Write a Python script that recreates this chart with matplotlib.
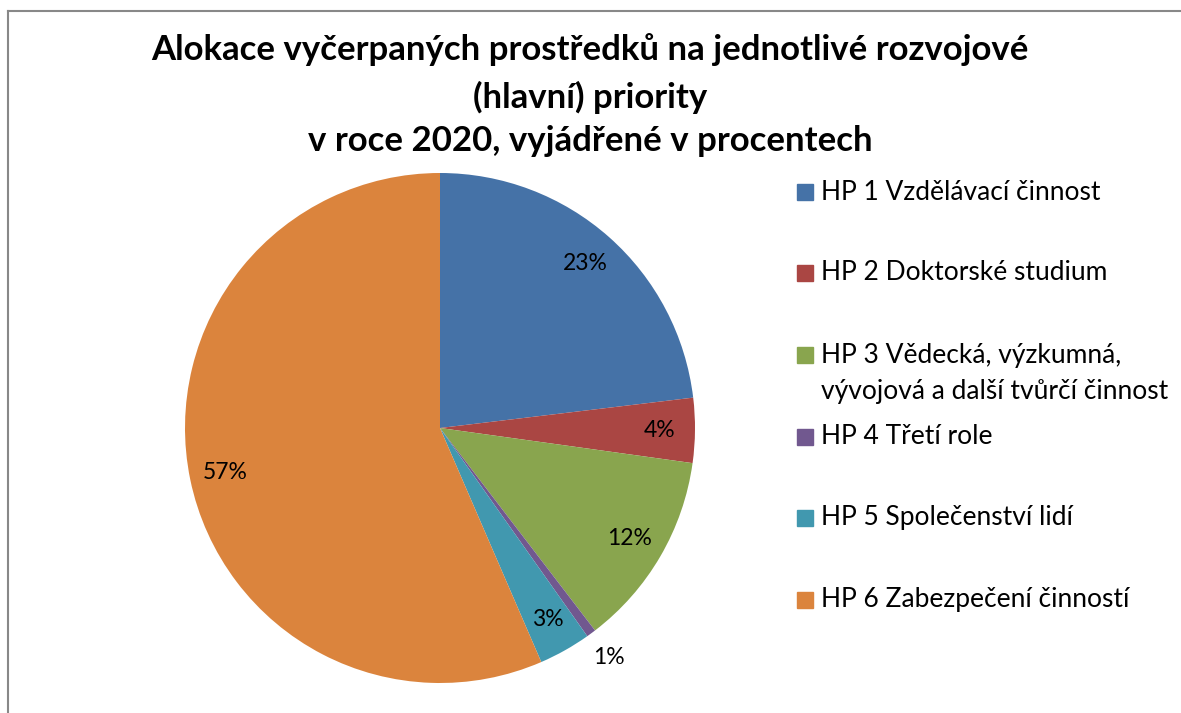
import numpy as np
import matplotlib.pyplot as plt
from matplotlib.lines import Line2D

# chart data (shares in percent)
categories = [
    "HP 1 Vzdělávací činnost",
    "HP 2 Doktorské studium",
    "HP 3 Vědecká, výzkumná,\nvývojová a další tvůrčí činnost",
    "HP 4 Třetí role",
    "HP 5 Společenství lidí",
    "HP 6 Zabezpečení činností",
]
shares = [23.1, 4.1, 12.4, 0.6, 3.3, 56.5]
pct_labels = ["23%", "4%", "12%", "1%", "3%", "57%"]
colors = ["#4572A7", "#AA4643", "#89A54E", "#71588F", "#4198AF", "#DB843D"]

title = ("Alokace vyčerpaných prostředků na jednotlivé rozvojové\n"
         "(hlavní) priority\n"
         "v roce 2020, vyjádřené v procentech")

plt.rcParams['font.family'] = ['Lato', 'DejaVu Sans']

W, H = 1181, 713
fig = plt.figure(figsize=(W / 100, H / 100), dpi=100)

# frame of the chart area (only top and left edges are visible)
fig.add_artist(Line2D([8 / W, 1], [1 - 11 / H, 1 - 11 / H], color="#888888", lw=1.5))
fig.add_artist(Line2D([8 / W, 8 / W], [1 - 11 / H, 0], color="#888888", lw=1.5))

# pie axes: centre (440, 428) px, radius 255 px
cx, cy, r = 440, 428, 255
ax = fig.add_axes([(cx - r) / W, 1 - (cy + r) / H, 2 * r / W, 2 * r / H])
wedges, _ = ax.pie(shares, colors=colors, startangle=90, counterclock=False,
                   radius=1.0, wedgeprops=dict(linewidth=0))
ax.set_xlim(-1, 1)
ax.set_ylim(-1, 1)
ax.set_aspect("equal")
ax.axis("off")

# percentage labels
for i, (w, lab) in enumerate(zip(wedges, pct_labels)):
    ang = np.deg2rad((w.theta1 + w.theta2) / 2)
    dist = 1.12 if shares[i] < 1 else 0.86
    ax.text(dist * np.cos(ang), dist * np.sin(ang), lab, ha="center", va="center",
            fontsize=16.5, color="#000000", clip_on=False)

# title, one line at a time
title_y = [50, 97, 141]
for line, y in zip(title.split("\n"), title_y):
    fig.text(590 / W, 1 - y / H, line, ha="center", va="center",
             fontsize=25, fontweight="bold")

# legend drawn by hand to keep Excel spacing
leg_y = [192, 273, 355, 437, 518, 600]
for cat, col, y in zip(categories, colors, leg_y):
    fig.patches.append(plt.Rectangle((797 / W, 1 - (y + 8) / H), 16 / W, 16 / H,
                                     color=col, transform=fig.transFigure))
    for k, part in enumerate(cat.split("\n")):
        fig.text(821 / W, 1 - (y + 37 * k) / H, part, ha="left", va="center",
                 fontsize=19)

fig.savefig("out.png", dpi=100)
